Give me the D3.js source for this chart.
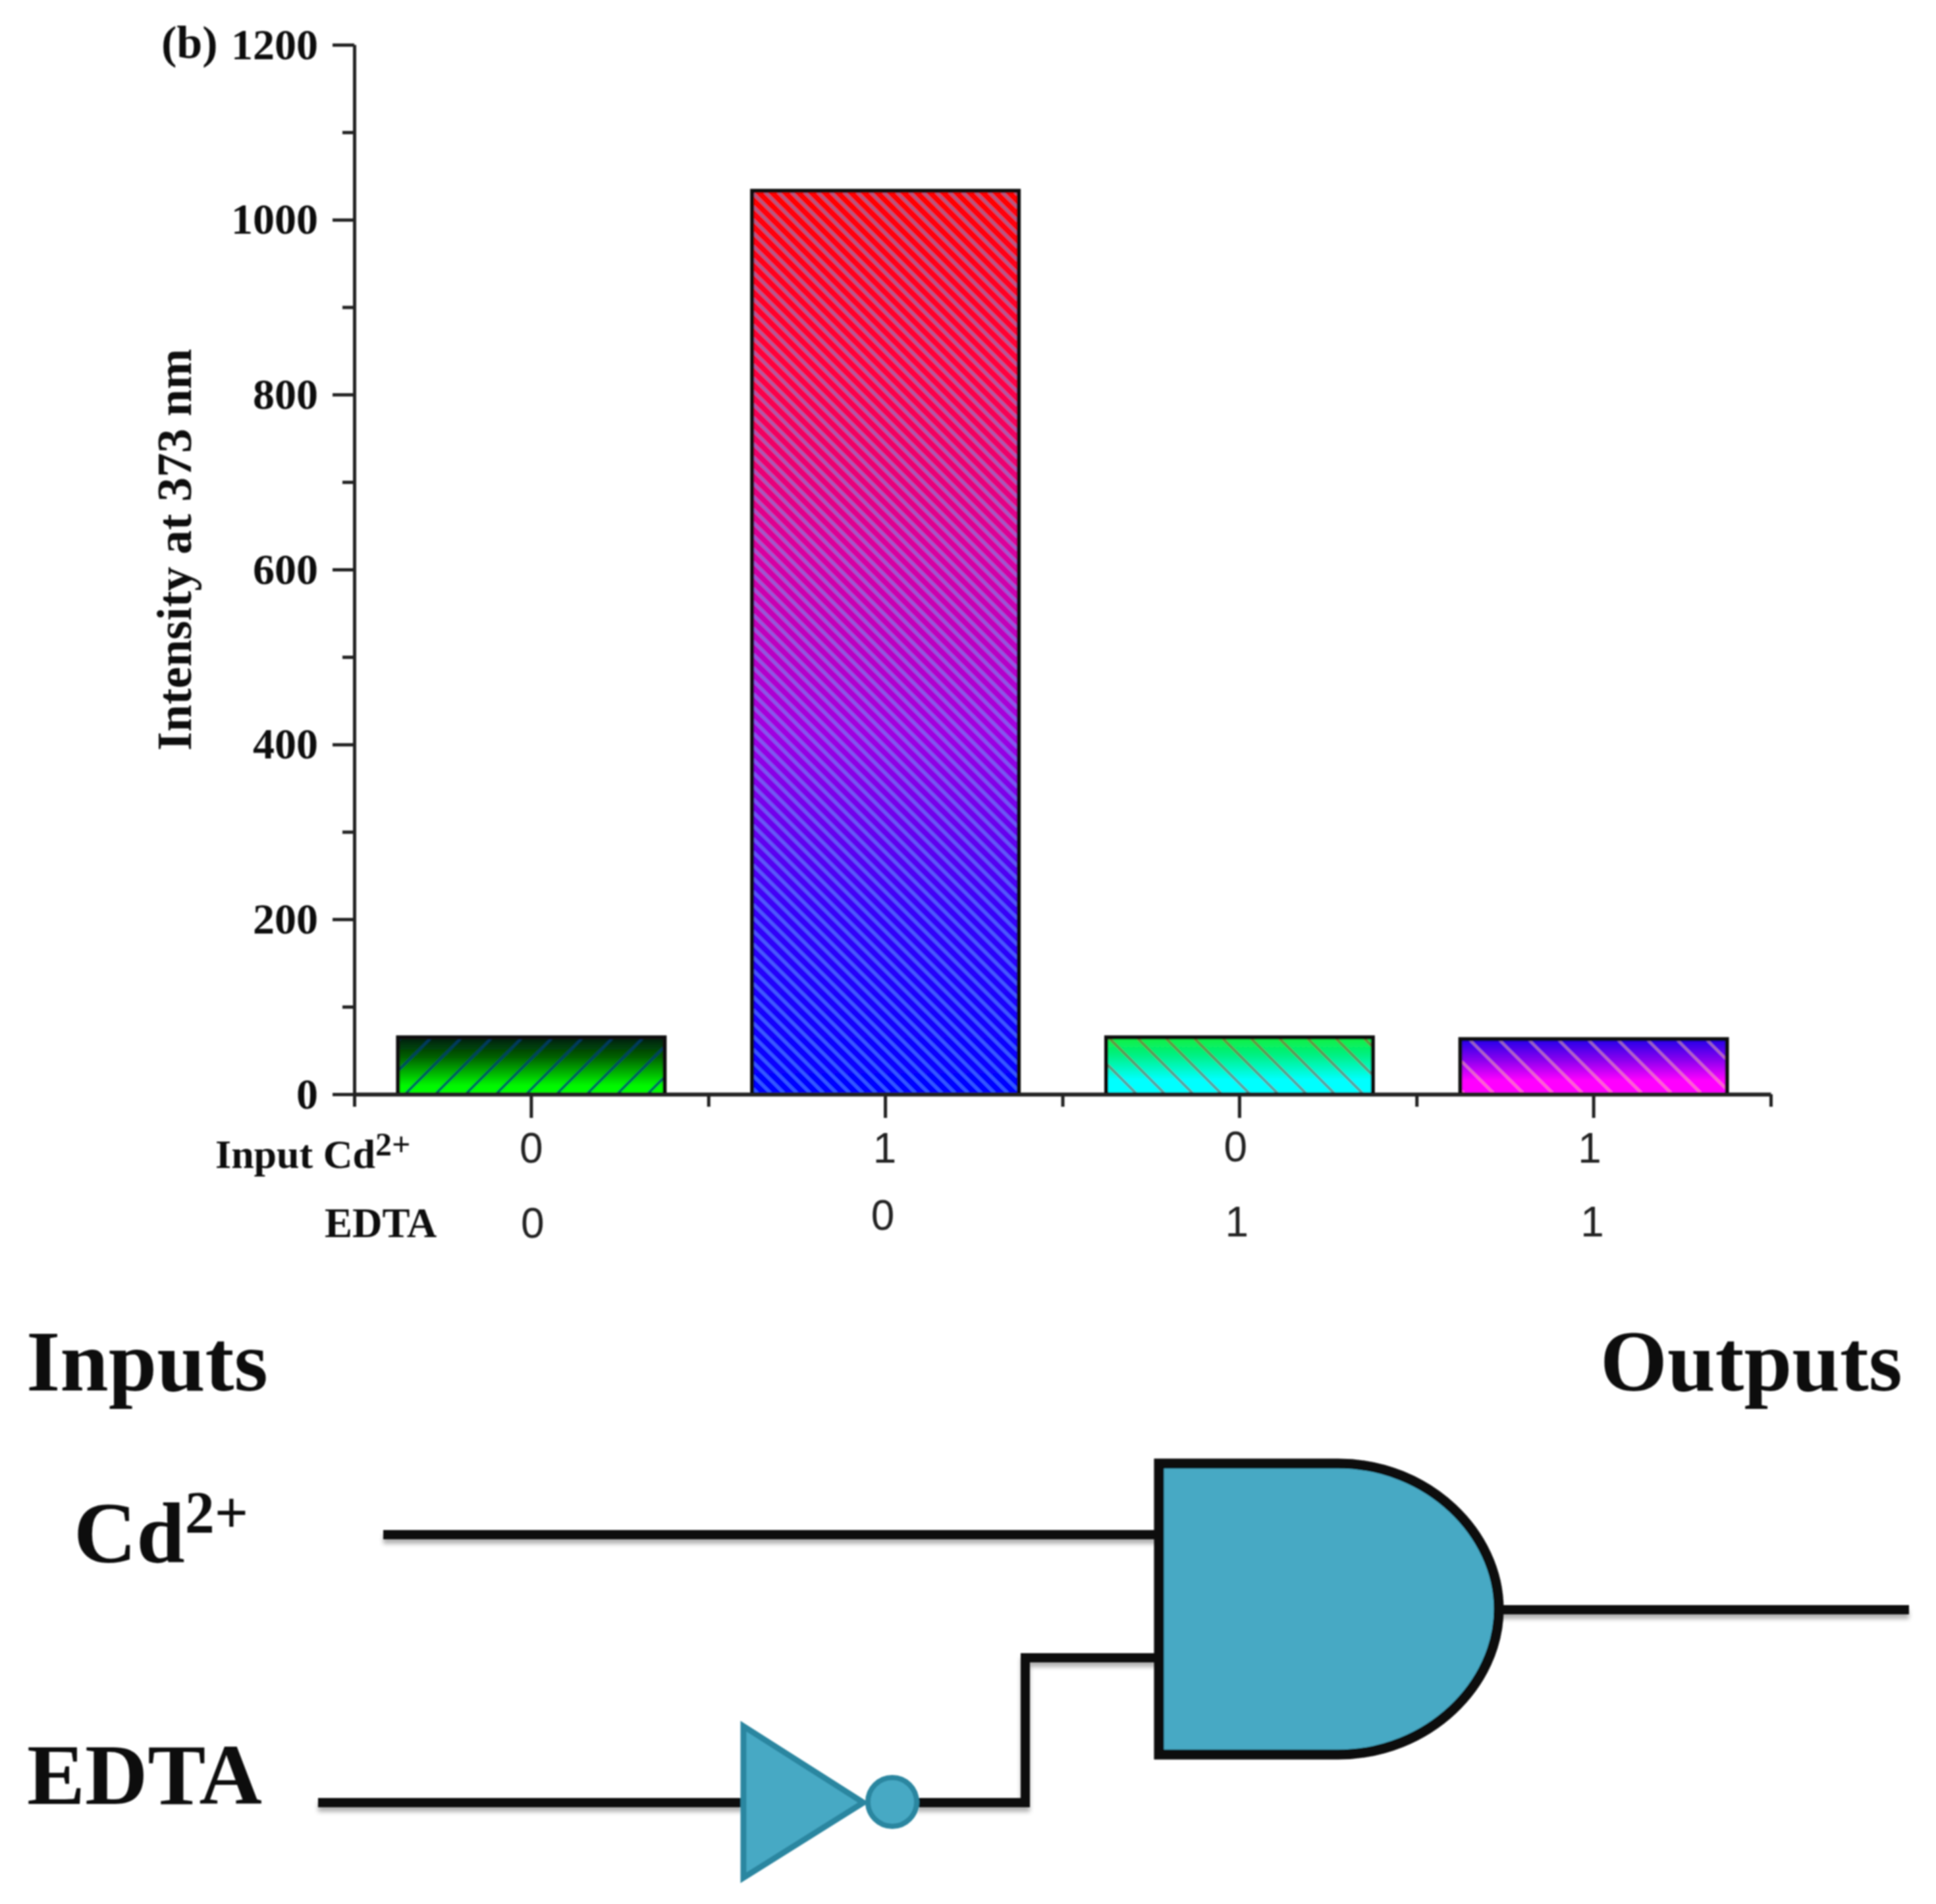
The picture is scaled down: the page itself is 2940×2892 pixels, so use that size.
<!DOCTYPE html>
<html>
<head>
<meta charset="utf-8">
<script src="https://cdn.jsdelivr.net/npm/d3@7"></script>
<style>
  html, body { margin: 0; padding: 0; background: #fff; }
  svg { display: block; }
  .serif { font-family: "Liberation Serif", serif; font-weight: bold; fill: #111; }
  .sans { font-family: "Liberation Sans", sans-serif; fill: #222; }
</style>
</head>
<body>
<div id="chart"></div>
<script>
// chart values
const categories = ["a", "b", "c", "d"];
const intensity = [65, 1033, 65, 63];
const inputCd = ["0", "1", "0", "1"];
const inputEdta = ["0", "0", "1", "1"];
const yTicks = [0, 200, 400, 600, 800, 1000, 1200];
const yMinorTicks = [100, 300, 500, 700, 900, 1100];

// bar styles, same order as categories
const barGradients = [
  [[0, "#001c12"], [0.35, "#006200"], [0.85, "#00f800"], [1, "#00ff00"]],
  [[0, "#ff0000"], [0.2, "#ff0040"], [0.4, "#d800a0"], [0.6, "#a000e0"], [0.8, "#3800f8"], [1, "#0000ff"]],
  [[0, "#10f040"], [0.3, "#00f080"], [0.75, "#00ffff"], [1, "#00ffff"]],
  [[0, "#2000e8"], [0.4, "#9000f0"], [0.75, "#ff00ff"], [1, "#ff00ff"]]
];
const hatchColor = ["#003c78", "#64b4ff", "#c83232", "#ffc896"];
const hatchOpacity = [0.8, 0.5, 0.5, 0.5];
const hatchStep = [46, 20, 43, 45];   // horizontal distance between the lines
const hatchWidth = [4, 5, 4, 4];
const hatchAngle = [45, -45, -45, -45];

const width = 2940, height = 2892;
const plot = {left: 538, right: 2689, top: 68, bottom: 1662};

const svg = d3.select("#chart").append("svg")
  .attr("width", width)
  .attr("height", height)
  .attr("xmlns", "http://www.w3.org/2000/svg");

const defs = svg.append("defs");

// the reference is a soft raster, so everything gets a slight blur
defs.append("filter")
  .attr("id", "soft")
  .attr("filterUnits", "userSpaceOnUse")
  .attr("x", 0).attr("y", 0).attr("width", width).attr("height", height)
  .append("feGaussianBlur").attr("stdDeviation", 0.9);

const wireShadow = defs.append("filter")
  .attr("id", "wire-shadow")
  .attr("filterUnits", "userSpaceOnUse")
  .attr("x", 0).attr("y", 1900).attr("width", width).attr("height", 992);
wireShadow.append("feDropShadow")
  .attr("dx", 0).attr("dy", 7).attr("stdDeviation", 3)
  .attr("flood-color", "#000").attr("flood-opacity", 0.3);

categories.forEach(function (c, i) {
  const grad = defs.append("linearGradient")
    .attr("id", "grad-" + c)
    .attr("x1", 0).attr("y1", 0).attr("x2", 0).attr("y2", 1);
  barGradients[i].forEach(function (s) {
    grad.append("stop").attr("offset", s[0]).attr("stop-color", s[1]);
  });

  const tile = hatchStep[i] / Math.SQRT2;
  defs.append("pattern")
    .attr("id", "hatch-" + c)
    .attr("patternUnits", "userSpaceOnUse")
    .attr("width", tile)
    .attr("height", tile)
    .attr("patternTransform", "rotate(" + hatchAngle[i] + ")")
    .append("line")
      .attr("x1", tile / 2).attr("x2", tile / 2)
      .attr("y1", 0).attr("y2", tile)
      .attr("stroke", hatchColor[i])
      .attr("stroke-opacity", hatchOpacity[i])
      .attr("stroke-width", hatchWidth[i]);
});

const root = svg.append("g").attr("filter", "url(#soft)");

// scales
const x = d3.scaleBand()
  .domain(categories)
  .range([plot.left, plot.right])
  .paddingInner(0.247)
  .paddingOuter(0.1235);
const xEdges = d3.scaleLinear().domain([0, categories.length]).range([plot.left, plot.right]);
const y = d3.scaleLinear().domain([0, 1200]).range([plot.bottom, plot.top]);

// bars
const bars = root.append("g");
bars.selectAll(".bar-fill")
  .data(categories)
  .enter()
  .append("rect")
  .attr("class", "bar-fill")
  .attr("x", function (d) { return x(d); })
  .attr("y", function (d, i) { return y(intensity[i]); })
  .attr("width", x.bandwidth())
  .attr("height", function (d, i) { return y(0) - y(intensity[i]); })
  .attr("fill", function (d) { return "url(#grad-" + d + ")"; });
bars.selectAll(".bar-hatch")
  .data(categories)
  .enter()
  .append("rect")
  .attr("class", "bar-hatch")
  .attr("x", function (d) { return x(d); })
  .attr("y", function (d, i) { return y(intensity[i]); })
  .attr("width", x.bandwidth())
  .attr("height", function (d, i) { return y(0) - y(intensity[i]); })
  .attr("fill", function (d) { return "url(#hatch-" + d + ")"; })
  .attr("stroke", "#111")
  .attr("stroke-width", 6);

// axes
function styleAxis(sel) {
  sel.selectAll("path, line").attr("stroke", "#222").attr("stroke-width", 5);
}

root.append("g")
  .attr("transform", "translate(" + plot.left + ",0)")
  .call(d3.axisLeft(y).tickValues(yTicks).tickSize(33).tickSizeOuter(0).tickPadding(22).tickFormat(d3.format("d")))
  .call(styleAxis)
  .call(function (g) {
    g.selectAll("text")
      .attr("class", "serif")
      .attr("font-size", 66)
      .attr("font-family", null);
  });

root.append("g")
  .attr("transform", "translate(" + plot.left + ",0)")
  .call(d3.axisLeft(y).tickValues(yMinorTicks).tickSize(18).tickSizeOuter(0).tickFormat(""))
  .call(styleAxis);

root.append("g")
  .attr("transform", "translate(0," + plot.bottom + ")")
  .call(d3.axisBottom(xEdges).ticks(4).tickSize(19).tickSizeOuter(0).tickFormat(""))
  .call(styleAxis)
  .call(function (g) { g.select("path").attr("stroke-width", 6); });

root.append("g")
  .attr("transform", "translate(0," + plot.bottom + ")")
  .call(d3.axisBottom(x).tickSize(36).tickSizeOuter(0).tickFormat(""))
  .call(styleAxis)
  .call(function (g) { g.select("path").remove(); });

// y axis title and panel label
root.append("text")
  .attr("class", "serif")
  .attr("font-size", 74)
  .attr("text-anchor", "middle")
  .attr("transform", "translate(290,835) rotate(-90)")
  .text("Intensity at 373 nm");

root.append("text")
  .attr("class", "serif")
  .attr("x", 245)
  .attr("y", 88)
  .attr("font-size", 70)
  .text("(b)");

// the two rows under the axis, hand placed in the original
const cdNudgeX = [0, -1, -6, -6];
const cdNudgeY = [-3, -3, -5, -3];
const edtaNudgeX = [2, -4, -4, -2];
const edtaNudgeY = [-1, -13, -3, -3];

root.selectAll(".row-cd")
  .data(inputCd)
  .enter()
  .append("text")
  .attr("class", "sans row-cd")
  .attr("font-size", 64)
  .attr("text-anchor", "middle")
  .attr("x", function (d, i) { return x(categories[i]) + x.bandwidth() / 2 + cdNudgeX[i]; })
  .attr("y", function (d, i) { return 1769 + cdNudgeY[i]; })
  .text(function (d) { return d; });

root.selectAll(".row-edta")
  .data(inputEdta)
  .enter()
  .append("text")
  .attr("class", "sans row-edta")
  .attr("font-size", 64)
  .attr("text-anchor", "middle")
  .attr("x", function (d, i) { return x(categories[i]) + x.bandwidth() / 2 + edtaNudgeX[i]; })
  .attr("y", function (d, i) { return 1881 + edtaNudgeY[i]; })
  .text(function (d) { return d; });

const cdRow = root.append("text")
  .attr("class", "serif")
  .attr("x", 327)
  .attr("y", 1774)
  .attr("font-size", 62);
cdRow.append("tspan").text("Input Cd");
cdRow.append("tspan").attr("font-size", 50).attr("dy", -19).text("2+");

root.append("text")
  .attr("class", "serif")
  .attr("x", 493)
  .attr("y", 1879)
  .attr("font-size", 63)
  .text("EDTA");

// logic diagram
const gateFill = "#47a9c4";
const gateEdge = "#2c86a0";
const wirePaths = [
  [[582, 2331], [1756, 2331]],
  [[483, 2738], [1132, 2738]],
  [[1390, 2738], [1557, 2738], [1557, 2518], [1756, 2518]],
  [[2270, 2445], [2899, 2445]]
];
const wireLine = d3.line();

root.append("g")
  .attr("filter", "url(#wire-shadow)")
  .selectAll("path")
  .data(wirePaths)
  .enter()
  .append("path")
  .attr("d", wireLine)
  .attr("fill", "none")
  .attr("stroke", "#0a0a0a")
  .attr("stroke-width", 14)
  .attr("stroke-linejoin", "miter");

const gatePath = d3.path();
gatePath.moveTo(1760, 2223);
gatePath.lineTo(2032, 2223);
gatePath.bezierCurveTo(2170, 2223, 2276, 2330, 2276, 2444);
gatePath.bezierCurveTo(2276, 2558, 2170, 2665, 2032, 2665);
gatePath.lineTo(1760, 2665);
gatePath.closePath();

root.append("path")
  .attr("d", gatePath.toString())
  .attr("fill", gateFill)
  .attr("stroke", "#0a0a0a")
  .attr("stroke-width", 15)
  .attr("stroke-linejoin", "miter");

root.append("path")
  .attr("d", d3.line()([[1129, 2622], [1311, 2738], [1129, 2852]]) + "Z")
  .attr("fill", gateFill)
  .attr("stroke", gateEdge)
  .attr("stroke-width", 9)
  .attr("stroke-linejoin", "miter");

root.append("circle")
  .attr("cx", 1355)
  .attr("cy", 2737)
  .attr("r", 37)
  .attr("fill", gateFill)
  .attr("stroke", gateEdge)
  .attr("stroke-width", 8);

const bigLabels = [
  {text: "Inputs", x: 40, y: 2112, size: 132},
  {text: "Outputs", x: 2430, y: 2112, size: 131},
  {text: "EDTA", x: 41, y: 2740, size: 132}
];
root.selectAll(".big-label")
  .data(bigLabels)
  .enter()
  .append("text")
  .attr("class", "serif big-label")
  .attr("font-size", function (d) { return d.size; })
  .attr("x", function (d) { return d.x; })
  .attr("y", function (d) { return d.y; })
  .text(function (d) { return d.text; });

const cdLabel = root.append("text")
  .attr("class", "serif")
  .attr("x", 112)
  .attr("y", 2373)
  .attr("font-size", 132);
cdLabel.append("tspan").text("Cd");
cdLabel.append("tspan").attr("font-size", 90).attr("dy", -45).text("2+");
</script>
</body>
</html>
